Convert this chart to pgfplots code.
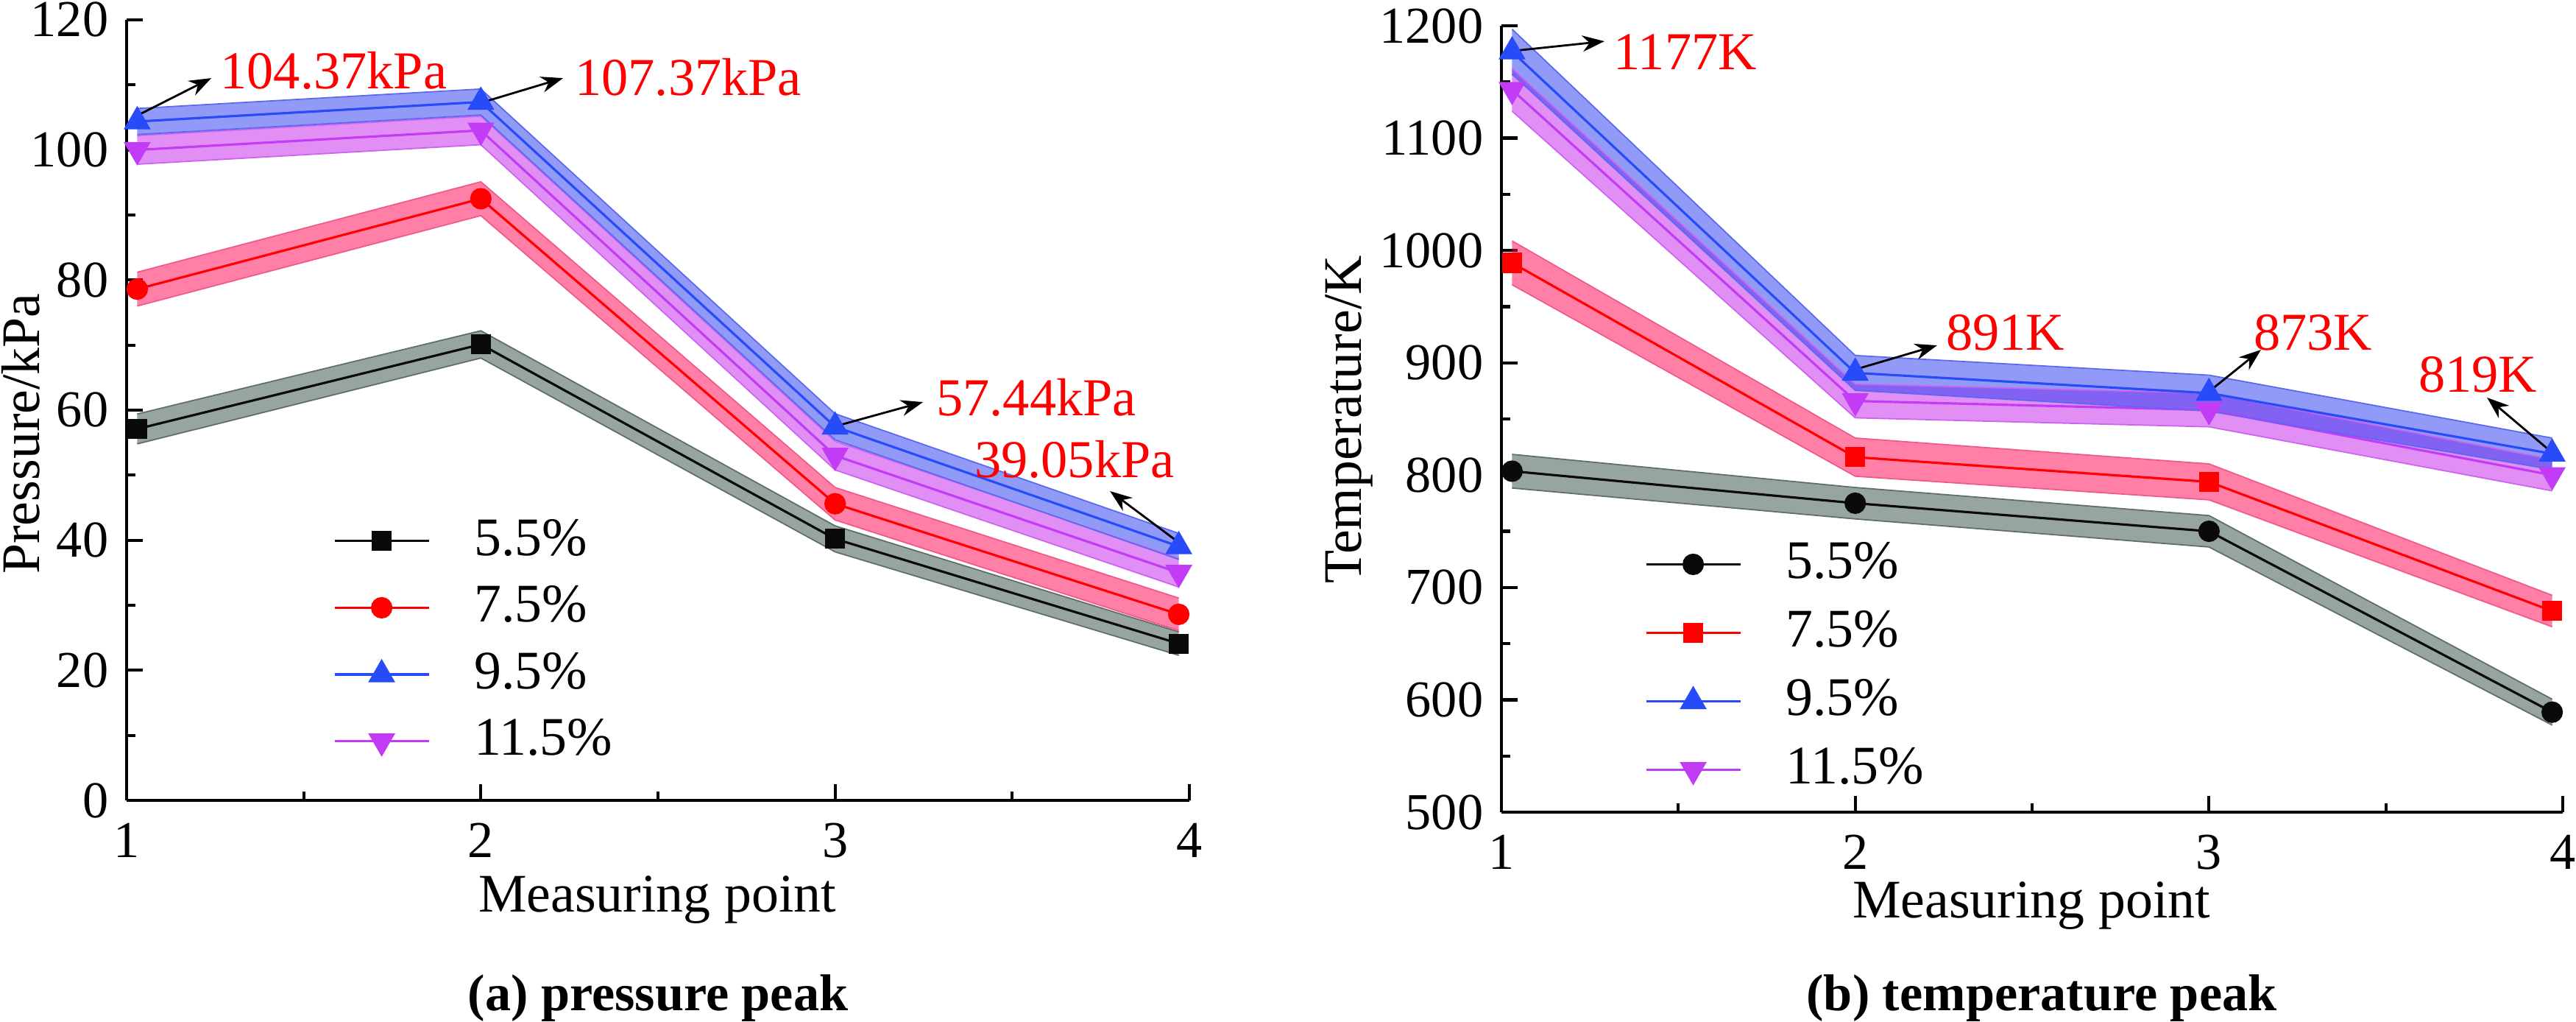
\documentclass[border=0pt]{standalone}
\usepackage{fontspec}
\setmainfont{Liberation Serif}
\usepackage{pgfplots}
\pgfplotsset{compat=1.18}
\usepackage{pgfplotstable}
\usepgfplotslibrary{fillbetween}
\usetikzlibrary{arrows.meta}

\definecolor{gfill}{RGB}{45,75,65}
\definecolor{gedge}{RGB}{95,110,105}
\definecolor{pfill}{RGB}{255,0,80}
\definecolor{pedge}{RGB}{240,90,135}
\definecolor{bfill}{RGB}{35,55,240}
\definecolor{bedge}{RGB}{90,105,240}
\definecolor{mfill}{RGB}{195,30,235}
\definecolor{medge}{RGB}{205,100,240}
\definecolor{cblk}{RGB}{10,10,10}
\definecolor{cred}{RGB}{255,0,0}
\definecolor{cblue}{RGB}{40,75,250}
\definecolor{cmag}{RGB}{195,60,245}

% pressure peak
\pgfplotstableread{
x y e
1.03 57.1 2.3
2 70.1 2.1
3 40.2 2.0
3.97 24.1 1.8
}\pA
\pgfplotstableread{
x y e
1.03 78.6 2.6
2 92.5 2.6
3 45.6 2.5
3.97 28.6 2.5
}\pB
\pgfplotstableread{
x y e
1.03 104.37 2.0
2 107.37 2.0
3 57.44 2.0
3.97 39.05 2.0
}\pC
\pgfplotstableread{
x y e
1.03 100.0 2.2
2 103.0 2.2
3 53.0 2.2
3.97 35.0 2.2
}\pD
% temperature peak
\pgfplotstableread{
x y e
1.03 803.5 15
2 775 14
3 750 14
3.97 589 11.5
}\tA
\pgfplotstableread{
x y e
1.03 989 19.5
2 816 17
3 794 16
3.97 679 14
}\tB
\pgfplotstableread{
x y e
1.03 1177 20
2 891 15.5
3 873 16
3.97 819 14
}\tC
\pgfplotstableread{
x y e
1.03 1143 19
2 866 15
3 858 15
3.97 800 14
}\tD

\newcommand{\band}[4]{%
  \addplot[draw=#4, line width=0.25pt, name path=#2u, forget plot] table[x=x, y expr=\thisrow{y}+\thisrow{e}] {#1};
  \addplot[draw=#4, line width=0.25pt, name path=#2l, forget plot] table[x=x, y expr=\thisrow{y}-\thisrow{e}] {#1};
  \addplot[fill=#3, fill opacity=0.5, draw=none, forget plot] fill between[of=#2u and #2l];
}

\tikzset{
  ann/.style={red, anchor=base west, inner sep=0pt, font=\fontsize{10.3}{12}\selectfont},
  arr/.style={-{Stealth[length=1.5mm,width=1.1mm]}, line width=0.4pt, black},
}

\pgfplotsset{
  panel/.style={
    scale only axis, anchor=south west,
    axis x line=bottom, axis y line=left,
    axis line style={-, line width=0.65pt},
    xmin=1, xmax=4, xtick={1,2,3,4},
    minor x tick num=1, minor y tick num=1,
    tick align=inside, major tick length=1.1mm, minor tick length=0.6mm,
    tick style={black, line width=0.6pt},
    /pgf/number format/assume math mode=true,
    /pgf/number format/1000 sep={},
    scaled y ticks=false,
    ticklabel style={font=\fontsize{10}{12}\selectfont},
    xticklabel style={inner sep=0pt, yshift=-1.5mm},
    label style={font=\fontsize{10.5}{12}\selectfont},
    clip=false,
    legend cell align=left,
    legend image code/.code={\draw[mark repeat=2,mark phase=2,##1] plot coordinates {(0mm,0mm) (3.2mm,0mm) (6.4mm,0mm)};},
    legend style={draw=none, fill=none, anchor=north west, inner sep=0pt, outer sep=0pt,
      row sep=1.55mm, column sep=3mm, font=\fontsize{10.5}{12}\selectfont,
      nodes={inner sep=0pt}},
  },
}

\begin{document}
\begin{tikzpicture}

% ---------------- (a) pressure peak
\begin{axis}[panel,
  at={(8.6mm,15.05mm)}, width=72.2mm, height=53mm,
  ymin=0, ymax=120, ytick={0,20,...,120},
  xlabel={Measuring point}, ylabel={Pressure/kPa},
  xlabel style={at={(axis description cs:0.4993,-0.1425)}, anchor=base, inner sep=0pt},
  ylabel style={at={(axis description cs:-0.0997,0.4698)}, anchor=center},
  legend style={at={(axis description cs:0.1946,0.3604)}},
]
\band{\pA}{pa}{gfill}{gedge}
\addplot[cblk, line width=0.45pt, mark=square*, mark size=0.6mm, mark options={fill=cblk, draw=cblk}, forget plot] table[x=x,y=y] {\pA};
\band{\pB}{pb}{pfill}{pedge}
\addplot[cred, line width=0.45pt, mark=*, mark size=0.65mm, mark options={fill=cred, draw=cred}, forget plot] table[x=x,y=y] {\pB};
\band{\pD}{pd}{mfill}{medge}
\addplot[cmag, line width=0.45pt, mark=triangle*, mark size=0.9mm, mark options={fill=cmag, draw=cmag, rotate=180}, forget plot] table[x=x,y=y] {\pD};
\band{\pC}{pc}{bfill}{bedge}
\addplot[cblue, line width=0.45pt, mark=triangle*, mark size=0.9mm, mark options={fill=cblue, draw=cblue}, forget plot] table[x=x,y=y] {\pC};

\addlegendimage{cblk, line width=0.45pt, mark=square*, mark size=0.6mm, mark options={fill=cblk, draw=cblk}}
\addlegendentry{5.5\%}
\addlegendimage{cred, line width=0.45pt, mark=*, mark size=0.65mm, mark options={fill=cred, draw=cred}}
\addlegendentry{7.5\%}
\addlegendimage{cblue, line width=0.45pt, mark=triangle*, mark size=0.9mm, mark options={fill=cblue, draw=cblue}}
\addlegendentry{9.5\%}
\addlegendimage{cmag, line width=0.45pt, mark=triangle*, mark size=0.9mm, mark options={fill=cmag, draw=cmag, rotate=180}}
\addlegendentry{11.5\%}

\draw[arr] (axis cs:1.025,105.15) -- (axis cs:1.239,111.04);
\node[ann] at (axis cs:1.262,109.45) {104.37kPa};
\draw[arr] (axis cs:2.014,107.47) -- (axis cs:2.232,111.04);
\node[ann] at (axis cs:2.263,108.43) {107.37kPa};
\draw[arr] (axis cs:3.007,57.61) -- (axis cs:3.248,61.23);
\node[ann] at (axis cs:3.283,59.2) {57.44kPa};
\draw[arr] (axis cs:3.979,39.28) -- (axis cs:3.776,47.54);
\node[ann] at (axis cs:3.391,49.69) {39.05kPa};

\node[anchor=base, font=\bfseries\fontsize{10}{12}\selectfont] at (axis description cs:0.5,-0.2698) {(a) pressure peak};
\end{axis}

% ---------------- (b) temperature peak
\begin{axis}[panel,
  at={(102mm,14.25mm)}, width=72.1mm, height=53.4mm,
  ymin=500, ymax=1200, ytick={500,600,...,1200},
  xlabel={Measuring point}, ylabel={Temperature/K},
  xlabel style={at={(axis description cs:0.4993,-0.1348)}, anchor=base, inner sep=0pt},
  ylabel style={at={(axis description cs:-0.1436,0.499)}, anchor=center},
  legend style={at={(axis description cs:0.1352,0.343)}, row sep=1.67mm},
]
\band{\tA}{ta}{gfill}{gedge}
\addplot[cblk, line width=0.45pt, mark=*, mark size=0.65mm, mark options={fill=cblk, draw=cblk}, forget plot] table[x=x,y=y] {\tA};
\band{\tB}{tb}{pfill}{pedge}
\addplot[cred, line width=0.45pt, mark=square*, mark size=0.6mm, mark options={fill=cred, draw=cred}, forget plot] table[x=x,y=y] {\tB};
\band{\tD}{td}{mfill}{medge}
\addplot[cmag, line width=0.45pt, mark=triangle*, mark size=0.9mm, mark options={fill=cmag, draw=cmag, rotate=180}, forget plot] table[x=x,y=y] {\tD};
\band{\tC}{tc}{bfill}{bedge}
\addplot[cblue, line width=0.45pt, mark=triangle*, mark size=0.9mm, mark options={fill=cblue, draw=cblue}, forget plot] table[x=x,y=y] {\tC};

\addlegendimage{cblk, line width=0.45pt, mark=*, mark size=0.65mm, mark options={fill=cblk, draw=cblk}}
\addlegendentry{5.5\%}
\addlegendimage{cred, line width=0.45pt, mark=square*, mark size=0.6mm, mark options={fill=cred, draw=cred}}
\addlegendentry{7.5\%}
\addlegendimage{cblue, line width=0.45pt, mark=triangle*, mark size=0.9mm, mark options={fill=cblue, draw=cblue}}
\addlegendentry{9.5\%}
\addlegendimage{cmag, line width=0.45pt, mark=triangle*, mark size=0.9mm, mark options={fill=cmag, draw=cmag, rotate=180}}
\addlegendentry{11.5\%}

\draw[arr] (axis cs:1.035,1177.7) -- (axis cs:1.291,1186.2);
\node[ann] at (axis cs:1.314,1161.3) {1177K};
\draw[arr] (axis cs:1.9985,893.9) -- (axis cs:2.2315,915.5);
\node[ann] at (axis cs:2.254,911.6) {891K};
\draw[arr] (axis cs:2.997,873.6) -- (axis cs:3.147,911.6);
\node[ann] at (axis cs:3.124,911.6) {873K};
\draw[arr] (axis cs:3.973,819.2) -- (axis cs:3.786,869.0);
\node[ann] at (axis cs:3.590,873.6) {819K};

\node[anchor=base, font=\bfseries\fontsize{10}{12}\selectfont] at (axis description cs:0.509,-0.2528) {(b) temperature peak};
\end{axis}

\pgfresetboundingbox
\useasboundingbox (0,0) rectangle (175mm,69.4mm);
\end{tikzpicture}
\end{document}
